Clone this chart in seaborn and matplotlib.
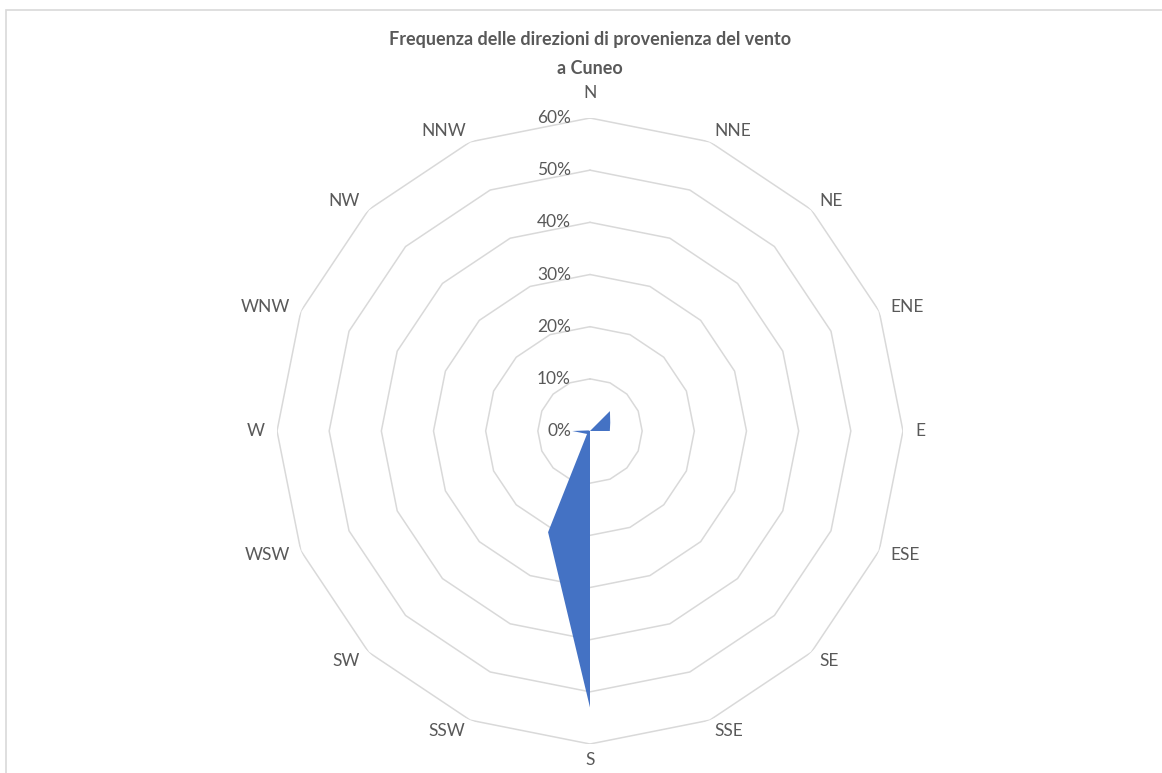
import numpy as np
import pandas as pd
import matplotlib
matplotlib.use("Agg")
import matplotlib.pyplot as plt
import matplotlib.transforms as mtransforms
from matplotlib.patches import Rectangle
import seaborn as sns

## Dati
direzioni = ["N", "NNE", "NE", "ENE", "E", "ESE", "SE", "SSE",
             "S", "SSW", "SW", "WSW", "W", "WNW", "NW", "NNW"]
frequenze = [0.0, 0.0, 5.4, 4.2, 3.8, 0.0, 0.0, 0.0,
             53.0, 21.0, 0.8, 1.2, 3.4, 0.3, 0.0, 0.0]  # percentuali
livelli = [0, 10, 20, 30, 40, 50, 60]
titolo = "Frequenza delle direzioni di provenienza del vento\na Cuneo"

sns.set_theme(style="white")
plt.rcParams['font.family'] = ['Lato', 'DejaVu Sans']

df = pd.DataFrame({"dir": direzioni, "freq": np.array(frequenze) / 100})
df["theta"] = np.arange(len(df)) * 2 * np.pi / len(df)

W, H = 1162, 773
fig = plt.figure(figsize=(W / 100, H / 100), dpi=100)
fig.patch.set_facecolor("white")
# bordo del grafico (stile Excel)
fig.patches.append(Rectangle((6 / W, -0.1), 2, (H - 10.5) / H + 0.1, transform=fig.transFigure,
                             fill=False, edgecolor="#D9D9D9", linewidth=1.2))

cx, cy, R = 590, 431, 313
ax = fig.add_axes([(cx - R) / W, (H - cy - R) / H, 2 * R / W, 2 * R / H], projection="polar")
ax.set_theta_zero_location("N")
ax.set_theta_direction(-1)
rmax = max(livelli) / 100
ax.set_ylim(0, rmax)
ax.grid(False)
ax.spines["polar"].set_visible(False)
ax.set_xticks([])
ax.set_yticks([])
ax.set_facecolor("none")

# griglia poligonale
th_closed = np.append(df["theta"].values, 0)
for lv in livelli[1:]:
    ax.plot(th_closed, np.full(len(th_closed), lv / 100), color="#D9D9D9", lw=1.1, zorder=1)

# area della serie
ax.fill(np.append(df["theta"], 0), np.append(df["freq"], df["freq"].iloc[0]),
        color="#4472C4", lw=0, zorder=3)

# etichette radiali
off = mtransforms.offset_copy(ax.transData, fig=fig, x=-19, y=0, units="dots")
for lv in livelli:
    ax.text(0, lv / 100, f"{lv}%", transform=off, ha="right", va="center",
            fontsize=12.5, color="#595959")

# etichette direzioni (posizionate come in Excel: a lato del vertice esterno)
gap = 12
for t, d in zip(df["theta"], df["dir"]):
    s, c = np.sin(t), np.cos(t)
    if abs(s) < 0.01:
        ha = "center"
        dx, dy = 0, (25 if c > 0 else -16)
    else:
        ha = "left" if s > 0 else "right"
        dx, dy = gap * s, gap * c
    ax.annotate(d, xy=(t, rmax), xytext=(dx, dy), textcoords="offset pixels",
                ha=ha, va="center", fontsize=12.5, color="#595959")

fig.text(cx / W, 1 - 54 / H, titolo, ha="center", va="center", fontsize=13,
         fontweight="bold", color="#595959", linespacing=1.8)

fig.savefig("out.png", dpi=100)
